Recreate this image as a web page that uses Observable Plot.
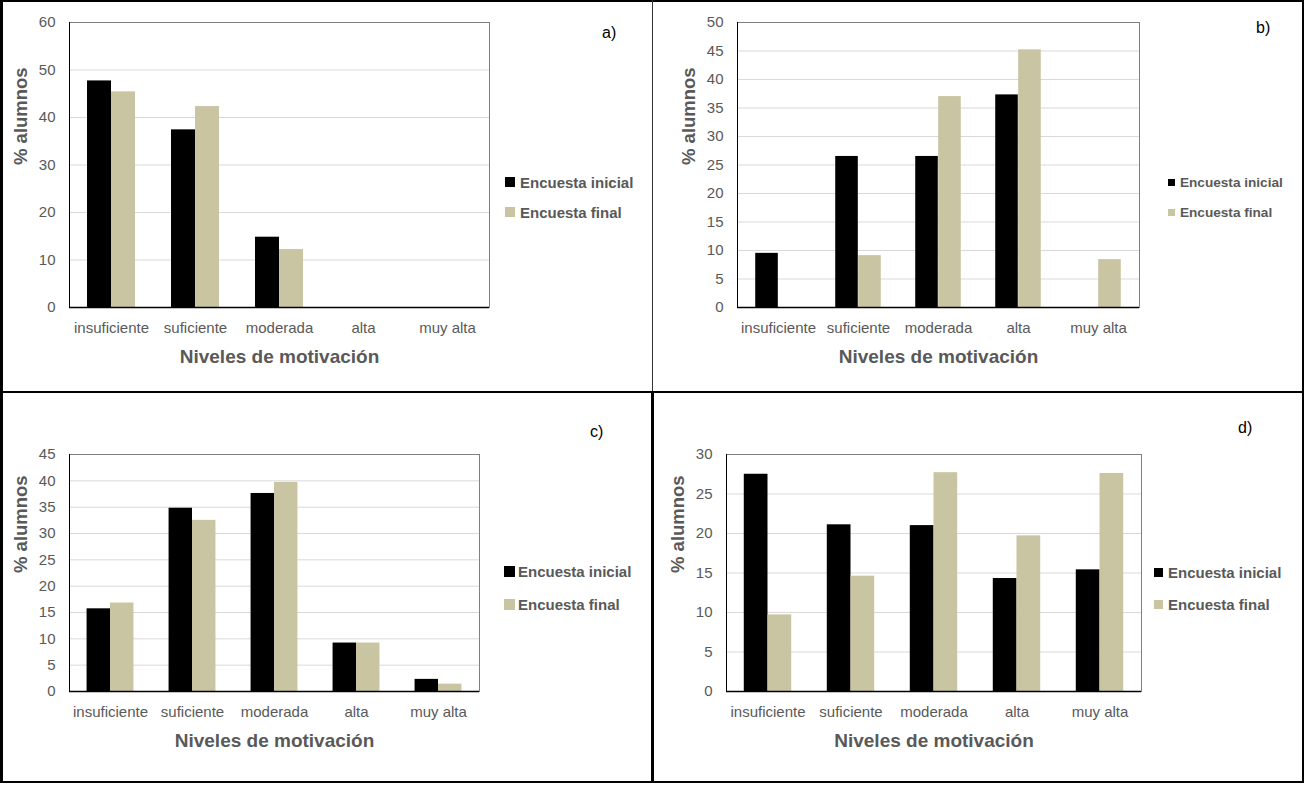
<!DOCTYPE html>
<html><head><meta charset="utf-8">
<script src="https://cdn.jsdelivr.net/npm/d3@7"></script>
<script src="https://cdn.jsdelivr.net/npm/@observablehq/plot@0.6"></script>
<style>
body{margin:0;background:#fff;}
#root{position:relative;width:1304px;height:786px;overflow:hidden;background:#fff;font-family:"Liberation Sans",Arial,sans-serif;}
.pn{position:absolute;}
.pn svg{background:transparent;}
.ln{position:absolute;background:#000;}
.lg{position:absolute;display:flex;align-items:center;color:#595959;font-weight:bold;white-space:nowrap;height:20px;}
.sw{display:inline-block;}
.tag{position:absolute;color:#000;font-size:16px;line-height:20px;height:20px;}
</style></head><body><div id="root"></div>
<script>
const categories = ["insuficiente", "suficiente", "moderada", "alta", "muy alta"];
const series = ["Encuesta inicial", "Encuesta final"];
const seriesColors = ["#000000", "#c9c4a1"];
const xTitle = "Niveles de motivación";
const yTitle = "% alumnos";

const aInicial = [47.7, 37.4, 14.8, 0, 0];
const aFinal   = [45.4, 42.3, 12.2, 0, 0];
const bInicial = [9.5, 26.5, 26.5, 37.3, 0];
const bFinal   = [0, 9.1, 37.0, 45.2, 8.4];
const cInicial = [15.7, 34.8, 37.6, 9.2, 2.3];
const cFinal   = [16.8, 32.5, 39.7, 9.2, 1.4];
const dInicial = [27.5, 21.1, 21.0, 14.3, 15.4];
const dFinal   = [9.7, 14.6, 27.7, 19.7, 27.6];

const aTicks = [0, 10, 20, 30, 40, 50, 60];
const bTicks = [0, 5, 10, 15, 20, 25, 30, 35, 40, 45, 50];
const cTicks = [0, 5, 10, 15, 20, 25, 30, 35, 40, 45];
const dTicks = [0, 5, 10, 15, 20, 25, 30];

const root = document.getElementById("root");
const FONT = '"Liberation Sans", Arial, sans-serif';

const panels = [
  {tag: "a)", left: 0, top: 0, ml: 69, mr: 163, mt: 22, mb: 85, ticks: aTicks, ini: aInicial, fin: aFinal,
   leg: {x: 505, y: [182, 212], sw: 10, gap: 5, fs: 15}, tagPos: {x: 602, y: 33}},
  {tag: "b)", left: 652, top: 0, ml: 85, mr: 165, mt: 22, mb: 85, ticks: bTicks, ini: bInicial, fin: bFinal,
   leg: {x: 1168, y: [182, 212], sw: 7, gap: 5, fs: 13.6}, tagPos: {x: 1256, y: 28}},
  {tag: "c)", left: 0, top: 392, ml: 69, mr: 173, mt: 62, mb: 93, ticks: cTicks, ini: cInicial, fin: cFinal,
   leg: {x: 504, y: [571, 604], sw: 11, gap: 3, fs: 15}, tagPos: {x: 590, y: 432}},
  {tag: "d)", left: 652, top: 392, ml: 74, mr: 163, mt: 62, mb: 93, ticks: dTicks, ini: dInicial, fin: dFinal,
   leg: {x: 1154, y: [572, 604], sw: 9, gap: 5, fs: 15}, tagPos: {x: 1238, y: 428}}
];

const W = 652, H = 392;

for (const p of panels) {
  const bw = (W - p.ml - p.mr) / categories.length;
  const barW = bw / 3.5, off = 0.75 * barW;
  const rowsIni = categories.map((c, i) => ({categoria: c, valor: p.ini[i]}));
  const rowsFin = categories.map((c, i) => ({categoria: c, valor: p.fin[i]}));
  const ymax = p.ticks[p.ticks.length - 1];
  const svg = Plot.plot({
    width: W, height: H,
    marginLeft: p.ml, marginRight: p.mr, marginTop: p.mt, marginBottom: p.mb,
    x: {domain: categories, padding: 0, label: null},
    y: {domain: [0, ymax], label: null},
    style: {fontFamily: FONT, fontSize: "15px", color: "#595959", background: "transparent", overflow: "visible"},
    marks: [
      Plot.gridY({ticks: p.ticks, stroke: "#d9d9d9", strokeOpacity: 1}),
      Plot.frame({stroke: "#808080"}),
      Plot.barY(rowsIni, {x: "categoria", y: "valor", fill: seriesColors[0], insetLeft: off, insetRight: bw - off - barW}),
      Plot.barY(rowsFin, {x: "categoria", y: "valor", fill: seriesColors[1], insetLeft: off + barW, insetRight: bw - off - 2 * barW}),
      Plot.frame({anchor: "left", stroke: "#000"}),
      Plot.ruleY([0], {stroke: "#000", strokeWidth: 1.5}),
      Plot.axisY({ticks: p.ticks, tickSize: 0, tickPadding: 14, label: null, fontSize: 15, fill: "#595959"}),
      Plot.axisX({tickSize: 0, tickPadding: 15, label: null, fontSize: 15, fill: "#595959"}),
      Plot.text([xTitle], {text: d => d, frameAnchor: "bottom", dy: 55, fontWeight: "bold", fontSize: 19, fill: "#595959"}),
      Plot.text([yTitle], {text: d => d, frameAnchor: "left", dx: -48, rotate: -90, fontWeight: "bold", fontSize: 18.5, fill: "#595959"})
    ]
  });
  const div = document.createElement("div");
  div.className = "pn";
  div.style.left = p.left + "px";
  div.style.top = p.top + "px";
  div.appendChild(svg);
  root.appendChild(div);

  series.forEach((s, i) => {
    const lg = document.createElement("div");
    lg.className = "lg";
    lg.style.left = p.leg.x + "px";
    lg.style.top = (p.leg.y[i] - 10) + "px";
    lg.style.fontSize = p.leg.fs + "px";
    const sw = document.createElement("span");
    sw.className = "sw";
    sw.style.width = p.leg.sw + "px";
    sw.style.height = p.leg.sw + "px";
    sw.style.background = seriesColors[i];
    sw.style.marginRight = p.leg.gap + "px";
    lg.appendChild(sw);
    lg.appendChild(document.createTextNode(s));
    root.appendChild(lg);
  });

  const tg = document.createElement("div");
  tg.className = "tag";
  tg.style.left = p.tagPos.x + "px";
  tg.style.top = (p.tagPos.y - 10) + "px";
  tg.textContent = p.tag;
  root.appendChild(tg);
}

// panel borders
const borders = [
  [0, 0, 3, 783, "#000"], [0, 0, 1304, 2, "#000"], [1302, 0, 2, 783, "#000"], [0, 781, 1304, 2, "#000"],
  [0, 391, 1304, 2, "#000"], [652, 0, 1, 391, "#333"], [651, 391, 3, 392, "#000"]
];
for (const [x, y, w, h, c] of borders) {
  const l = document.createElement("div");
  l.className = "ln";
  Object.assign(l.style, {left: x + "px", top: y + "px", width: w + "px", height: h + "px", background: c});
  root.appendChild(l);
}
</script></body></html>
